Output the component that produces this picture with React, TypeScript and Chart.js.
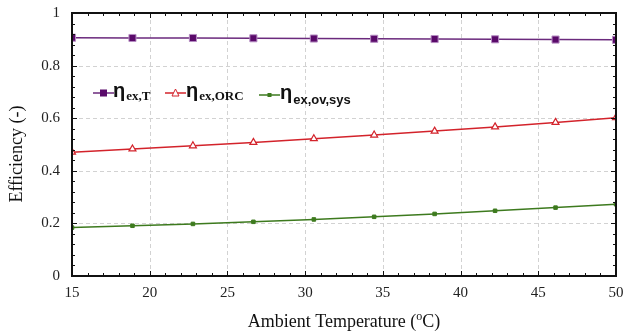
import React, { useEffect, useRef } from "react";
import { Chart, registerables } from "chart.js";
Chart.register(...registerables);

const temperatures = [15, 18.89, 22.78, 26.67, 30.56, 34.44, 38.33, 42.22, 46.11, 50];
const etaExT = [0.906, 0.905, 0.905, 0.904, 0.903, 0.902, 0.901, 0.9, 0.899, 0.898];
const etaExORC = [0.471, 0.483, 0.495, 0.508, 0.522, 0.536, 0.551, 0.567, 0.584, 0.602];
const etaExOvSys = [0.184, 0.191, 0.198, 0.206, 0.215, 0.225, 0.236, 0.248, 0.26, 0.273];
const seriesMain = ["η", "η", "η"];
const seriesSub = ["ex,T", "ex,ORC", "ex,ov,sys"];
const xTitleA = "Ambient Temperature (";
const xTitleSup = "o";
const xTitleB = "C)";
const yTitle = "Efficiency (-)";

const PURPLE = "#6b2a7d";
const PURPLE_FILL = "#5a0a6a";
const RED = "#d3232b";
const GREEN = "#3d7a1e";
const SERIF = "'Liberation Serif', 'Times New Roman', serif";
const SANS = "'Liberation Sans', Arial, sans-serif";

const framePlugin = {
  id: "framePlugin",
  beforeDatasetsDraw(chart: any) {
    const { ctx, chartArea: a, scales } = chart;
    const xs = scales.x, ys = scales.y;
    ctx.save();
    ctx.strokeStyle = "#d2d2d2";
    ctx.lineWidth = 1;
    ctx.setLineDash([4, 3]);
    for (let v = 20; v <= 45; v += 5) {
      const px = Math.round(xs.getPixelForValue(v)) + 0.5;
      ctx.beginPath(); ctx.moveTo(px, a.top); ctx.lineTo(px, a.bottom); ctx.stroke();
    }
    for (let i = 1; i <= 4; i++) {
      const py = Math.round(ys.getPixelForValue(i * 0.2)) + 0.5;
      ctx.beginPath(); ctx.moveTo(a.left, py); ctx.lineTo(a.right, py); ctx.stroke();
    }
    ctx.restore();
  },
  afterDatasetsDraw(chart: any) {
    const { ctx, chartArea: a, scales } = chart;
    const xs = scales.x, ys = scales.y;
    ctx.save();
    ctx.strokeStyle = "#111";
    ctx.lineWidth = 1;
    ctx.setLineDash([]);
    for (let i = 0; i <= 35; i++) {
      const px = Math.round(xs.getPixelForValue(15 + i)) + 0.5;
      const len = i % 5 === 0 ? 5 : 3;
      ctx.beginPath(); ctx.moveTo(px, a.bottom); ctx.lineTo(px, a.bottom - len); ctx.stroke();
      ctx.beginPath(); ctx.moveTo(px, a.top); ctx.lineTo(px, a.top + len); ctx.stroke();
    }
    for (let i = 0; i <= 25; i++) {
      const py = Math.round(ys.getPixelForValue(i * 0.04)) + 0.5;
      const len = i % 5 === 0 ? 5 : 3;
      ctx.beginPath(); ctx.moveTo(a.left, py); ctx.lineTo(a.left + len, py); ctx.stroke();
      ctx.beginPath(); ctx.moveTo(a.right, py); ctx.lineTo(a.right - len, py); ctx.stroke();
    }
    ctx.lineWidth = 2;
    ctx.strokeRect(a.left, a.top, a.right - a.left, a.bottom - a.top);
    ctx.restore();
  },
  afterDraw(chart: any) {
    const { ctx, chartArea: a } = chart;
    ctx.save();
    const items = [
      { x1: 93, x2: 114, y: 93, color: PURPLE, style: "rect", tx: 113, subFont: "bold 13px " + SERIF, subDy: 7 },
      { x1: 165, x2: 186, y: 93, color: RED, style: "tri", tx: 186, subFont: "bold 13px " + SERIF, subDy: 7 },
      { x1: 259, x2: 280, y: 95, color: GREEN, style: "small", tx: 280, subFont: "bold 13px " + SANS, subDy: 9 },
    ];
    items.forEach((it, i) => {
      ctx.strokeStyle = it.color;
      ctx.lineWidth = 1.5;
      ctx.beginPath(); ctx.moveTo(it.x1, it.y); ctx.lineTo(it.x2, it.y); ctx.stroke();
      const mx = (it.x1 + it.x2) / 2;
      if (it.style === "rect") {
        ctx.fillStyle = PURPLE_FILL; ctx.fillRect(mx - 3.5, it.y - 3.5, 7, 7);
      } else if (it.style === "tri") {
        ctx.fillStyle = "#fff"; ctx.lineWidth = 1;
        ctx.beginPath(); ctx.moveTo(mx, it.y - 4); ctx.lineTo(mx + 3.5, it.y + 3); ctx.lineTo(mx - 3.5, it.y + 3); ctx.closePath();
        ctx.fill(); ctx.stroke();
      } else {
        ctx.fillStyle = GREEN; ctx.fillRect(mx - 2, it.y - 2, 4, 4);
      }
      ctx.fillStyle = "#111";
      ctx.textAlign = "left";
      ctx.textBaseline = "alphabetic";
      ctx.font = "bold 20px " + SANS;
      ctx.fillText(seriesMain[i], it.tx, it.y + 4);
      const w = ctx.measureText(seriesMain[i]).width;
      ctx.font = it.subFont;
      ctx.fillText(seriesSub[i], it.tx + w + 1, it.y + it.subDy);
    });
    ctx.fillStyle = "#111";
    ctx.font = "18px " + SERIF;
    const wa = ctx.measureText(xTitleA).width;
    const wb = ctx.measureText(xTitleB).width;
    ctx.font = "12px " + SERIF;
    const ws = ctx.measureText(xTitleSup).width;
    const total = wa + ws + wb;
    const cx = (a.left + a.right) / 2;
    const x0 = cx - total / 2;
    const by = 327;
    ctx.font = "18px " + SERIF;
    ctx.fillText(xTitleA, x0, by);
    ctx.font = "12px " + SERIF;
    ctx.fillText(xTitleSup, x0 + wa, by - 7);
    ctx.font = "18px " + SERIF;
    ctx.fillText(xTitleB, x0 + wa + ws, by);
    ctx.translate(22, 154);
    ctx.rotate(-Math.PI / 2);
    ctx.textAlign = "center";
    ctx.font = "18px " + SERIF;
    ctx.fillText(yTitle, 0, 0);
    ctx.restore();
  },
};

export default function App() {
  const ref = useRef<HTMLCanvasElement | null>(null);
  useEffect(() => {
    document.body.style.margin = "0";
    const mk = (vals: number[]) => temperatures.map((t, i) => ({ x: t, y: vals[i] }));
    const chart = new Chart(ref.current as HTMLCanvasElement, {
      type: "line",
      data: {
        datasets: [
          { data: mk(etaExT), borderColor: PURPLE, borderWidth: 1.5, pointStyle: "rect", pointRadius: 5, pointBackgroundColor: PURPLE_FILL, pointBorderColor: "#b58cc2", pointBorderWidth: 1, tension: 0 },
          { data: mk(etaExORC), borderColor: RED, borderWidth: 1.5, pointStyle: "triangle", pointRadius: 4, pointBackgroundColor: "#fff", pointBorderColor: RED, pointBorderWidth: 1.2, tension: 0 },
          { data: mk(etaExOvSys), borderColor: GREEN, borderWidth: 1.5, pointStyle: "rect", pointRadius: 2.5, pointBackgroundColor: GREEN, pointBorderColor: GREEN, pointBorderWidth: 1, tension: 0 },
        ] as any,
      },
      options: {
        animation: false,
        responsive: false,
        maintainAspectRatio: false,
        layout: { padding: { top: 13, right: 9, left: 0, bottom: 0 } },
        plugins: { legend: { display: false }, tooltip: { enabled: false } },
        scales: {
          x: {
            type: "linear", min: 15, max: 50,
            grid: { display: false, drawTicks: false },
            border: { display: false },
            ticks: { stepSize: 5, padding: 8, color: "#222", font: { family: SERIF, size: 15 }, autoSkip: false, maxRotation: 0 },
            afterFit: (s: any) => { s.height = 58; s.paddingLeft = 0; s.paddingRight = 0; },
          },
          y: {
            min: 0, max: 1,
            grid: { display: false, drawTicks: false },
            border: { display: false },
            ticks: { stepSize: 0.2, padding: 12, color: "#222", font: { family: SERIF, size: 15 }, autoSkip: false, callback: (v: any) => String(Math.round(Number(v) * 10) / 10) },
            afterFit: (s: any) => { s.width = 72; s.paddingTop = 0; s.paddingBottom = 0; },
          },
        },
      } as any,
      plugins: [framePlugin],
    });
    return () => chart.destroy();
  }, []);
  return (
    <div style={{ width: 625, height: 334 }}>
      <canvas ref={ref} width={625} height={334} style={{ display: "block", width: 625, height: 334 }} />
    </div>
  );
}
